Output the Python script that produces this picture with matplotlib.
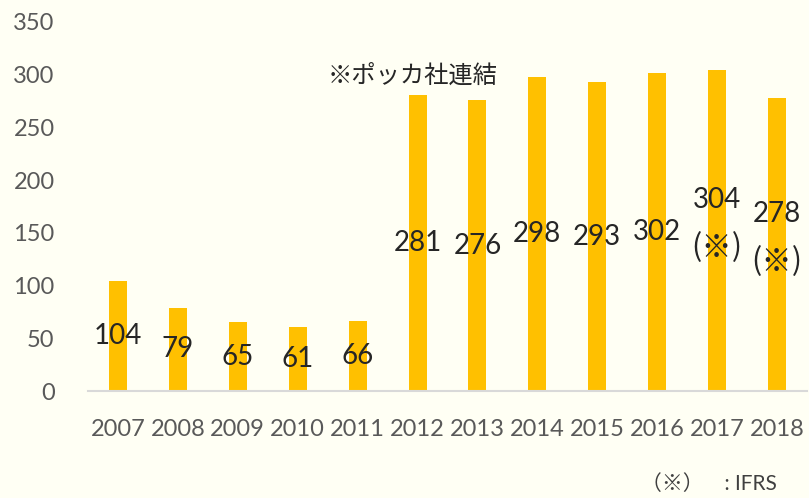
import matplotlib
matplotlib.use('Agg')
import matplotlib.pyplot as plt
import numpy as np

plt.rcParams['font.family'] = ['Lato', 'Noto Sans CJK JP', 'DejaVu Sans']

# Sales by year (IFRS from 2017)
years = ['2007', '2008', '2009', '2010', '2011', '2012',
         '2013', '2014', '2015', '2016', '2017', '2018']
values = [104, 79, 65, 61, 66, 281, 276, 298, 293, 302, 304, 278]
ifrs = [False] * 10 + [True, True]

bg = '#FFFFF4'
fig = plt.figure(figsize=(8.09, 4.98), dpi=100, facecolor=bg)
ax = fig.add_axes([88 / 809, 1 - 391 / 498, 719 / 809, 369 / 498], facecolor=bg)

x = np.arange(len(years))
ax.bar(x, values, width=0.3, color='#FFC000', zorder=2)

for xi, v, mark in zip(x, values, ifrs):
    if mark:
        ax.annotate(f'{v}', (xi, v / 2), xytext=(0, 22), textcoords='offset points',
                    ha='center', va='center', fontsize=20, color='#262626', zorder=3)
        ax.annotate('(※)', (xi, v / 2), xytext=(0, -12), textcoords='offset points',
                    ha='center', va='center', fontsize=22, color='#262626',
                    family=['Noto Sans CJK JP'], zorder=3)
    else:
        ax.text(xi, v / 2, f'{v}', ha='center', va='center', fontsize=20,
                color='#262626', zorder=3)

ax.set_xlim(-0.5, len(years) - 0.5)
ax.set_ylim(0, 350)
ax.set_yticks(np.arange(0, 351, 50))
ax.set_xticks(x)
ax.set_xticklabels(years)
ax.tick_params(axis='both', length=0, labelsize=17, colors='#595959')
ax.tick_params(axis='x', pad=20)
ax.tick_params(axis='y', pad=24)

for side in ['top', 'right', 'left']:
    ax.spines[side].set_visible(False)
ax.spines['bottom'].set_color('#D9D9D9')
ax.spines['bottom'].set_linewidth(1.5)

fig.text(328 / 809, 1 - 75 / 498, '※ポッカ社連結', fontsize=17.5,
         color='#262626', va='center', ha='left')
fig.text(777 / 809, 1 - 484 / 498, '（※）　: IFRS', fontsize=15,
         color='#404040', va='center', ha='right')

fig.savefig('out.png', dpi=100, facecolor=bg)
